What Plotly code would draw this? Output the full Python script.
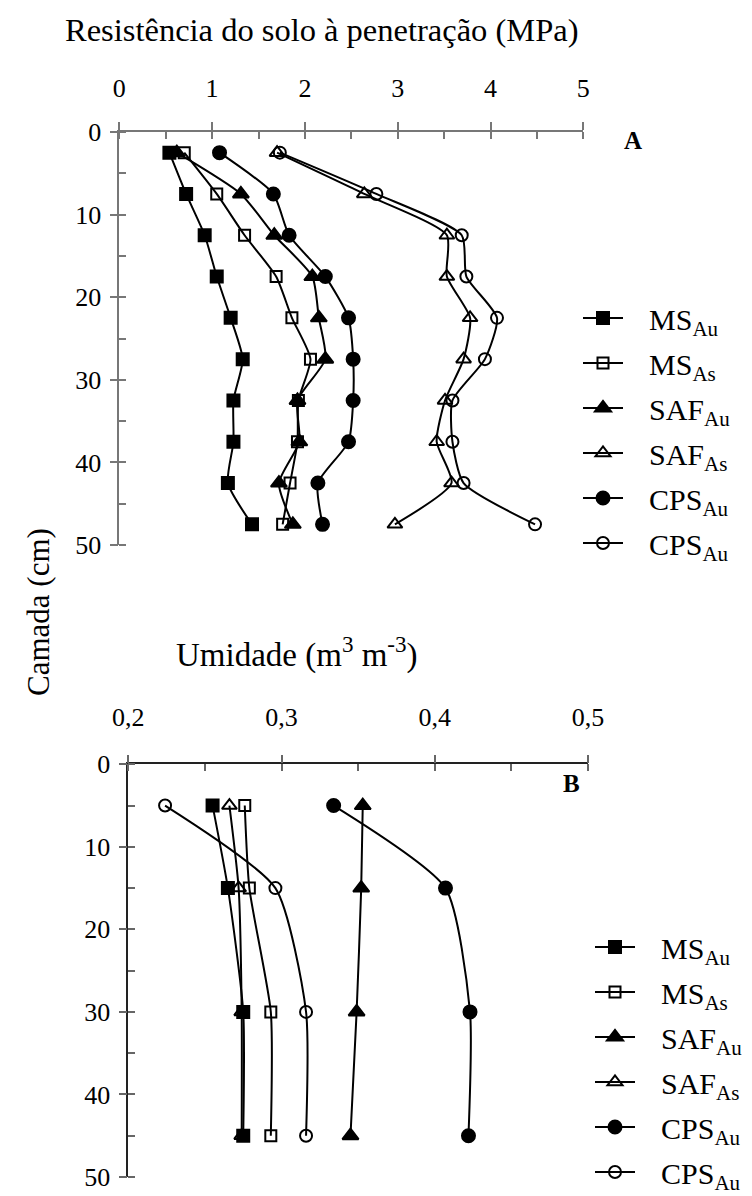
import plotly.graph_objects as go

# Painel A - resistencia a penetracao (MPa) por camada (cm)
camada_a = [2.5, 7.5, 12.5, 17.5, 22.5, 27.5, 32.5, 37.5, 42.5, 47.5]
rp_ms_au = [0.54, 0.72, 0.92, 1.05, 1.20, 1.33, 1.23, 1.23, 1.17, 1.43]
rp_ms_as = [0.70, 1.05, 1.35, 1.69, 1.86, 2.06, 1.93, 1.92, 1.84, 1.76]
rp_saf_au = [0.62, 1.31, 1.67, 2.08, 2.15, 2.22, 1.92, 1.94, 1.72, 1.87]
rp_saf_as = [1.70, 2.64, 3.53, 3.53, 3.78, 3.71, 3.51, 3.42, 3.58, 2.97]
rp_cps_au = [1.08, 1.66, 1.83, 2.22, 2.47, 2.52, 2.52, 2.47, 2.14, 2.19]
rp_cps_as = [1.73, 2.77, 3.69, 3.74, 4.07, 3.94, 3.59, 3.59, 3.71, 4.48]

# Painel B - umidade (m3 m-3) por camada (cm)
camada_b = [5, 15, 30, 45]
um_ms_au = [0.255, 0.265, 0.275, 0.275]
um_ms_as = [0.276, 0.279, 0.293, 0.293]
um_saf_au = [0.353, 0.352, 0.349, 0.345]
um_saf_as = [0.266, 0.272, 0.274, 0.274]
um_cps_au = [0.334, 0.407, 0.423, 0.422]
um_cps_as = [0.224, 0.296, 0.316, 0.316]

nomes = ["MS<sub>Au</sub>", "MS<sub>As</sub>", "SAF<sub>Au</sub>",
         "SAF<sub>As</sub>", "CPS<sub>Au</sub>", "CPS<sub>Au</sub>"]
simbolos = ["square", "square-open", "triangle-up", "triangle-up-open",
            "circle", "circle-open"]
tamanhos = [12, 11, 14, 13, 13, 12]

FONT = "Liberation Serif"
ESP = "\u00a0\u00a0\u2009"  # afasta o texto da legenda do simbolo
# a pagina tem margem de 8 px no body: figura menor e deslocada
OFF = 8
W, H = 752 - OFF, 1196 - OFF


def fx(p):
    return (p - OFF) / W


def fy(p):
    return 1 - (p - OFF) / H


fig = go.Figure()

series_a = [rp_ms_au, rp_ms_as, rp_saf_au, rp_saf_as, rp_cps_au, rp_cps_as]
series_b = [um_ms_au, um_ms_as, um_saf_au, um_saf_as, um_cps_au, um_cps_as]

for i, vals in enumerate(series_a):
    fig.add_trace(go.Scatter(
        x=vals, y=camada_a, mode="lines+markers", name=ESP + nomes[i],
        legend="legend", legendgroup="a%d" % i,
        line=dict(color="black", width=2, shape="spline", smoothing=0.6),
        marker=dict(symbol=simbolos[i], size=tamanhos[i], color="black",
                    line=dict(color="black", width=2)),
        xaxis="x", yaxis="y"))

for i, vals in enumerate(series_b):
    fig.add_trace(go.Scatter(
        x=vals, y=camada_b, mode="lines+markers", name=ESP + nomes[i],
        legend="legend2", legendgroup="b%d" % i,
        line=dict(color="black", width=2, shape="spline", smoothing=0.6),
        marker=dict(symbol=simbolos[i], size=tamanhos[i], color="black",
                    line=dict(color="black", width=2)),
        xaxis="x2", yaxis="y2"))

tick_font = dict(family=FONT, size=26, color="black")
eixo = dict(showgrid=False, zeroline=False, showline=True, linewidth=1.5,
            ticks="outside", ticklen=8, tickwidth=1.5, tickfont=tick_font,
            automargin=False)

fig.update_layout(
    width=W, height=H,
    margin=dict(l=0, r=0, t=0, b=0, autoexpand=False),
    paper_bgcolor="white", plot_bgcolor="white",
    separators=",.",
    font=dict(family=FONT, color="black"),
    xaxis=dict(eixo, domain=[fx(119.3), fx(583.3)], range=[0, 5], dtick=1,
               side="top", anchor="y", linecolor="#777", tickcolor="#777",
               ticklabelstandoff=15,
               minor=dict(ticks="inside", dtick=0.5, ticklen=7, tickcolor="#777")),
    yaxis=dict(eixo, domain=[fy(545), fy(132)], range=[50, 0], dtick=10,
               anchor="x", linecolor="#777", tickcolor="#777",
               ticklabelstandoff=3,
               minor=dict(ticks="inside", dtick=5, ticklen=7, tickcolor="#777")),
    xaxis2=dict(eixo, domain=[fx(128.3), fx(588)], range=[0.2, 0.5], dtick=0.1,
                tickformat=".1f", side="top", anchor="y2",
                linecolor="#222", tickcolor="#666", ticklabelstandoff=18,
                minor=dict(ticks="inside", dtick=0.05, ticklen=7, tickcolor="#666")),
    yaxis2=dict(eixo, domain=[fy(1177), fy(764.3)], range=[50, 0], dtick=10,
                anchor="x2", linecolor="#222", tickcolor="#666",
                ticklabelstandoff=3,
                minor=dict(ticks="inside", dtick=5, ticklen=7, tickcolor="#666")),
    legend=dict(x=fx(578), y=fy(292), xanchor="left", yanchor="top",
                font=dict(family=FONT, size=30), bgcolor="rgba(0,0,0,0)",
                tracegroupgap=3, itemwidth=40),
    legend2=dict(x=fx(590), y=fy(921), xanchor="left", yanchor="top",
                 font=dict(family=FONT, size=30), bgcolor="rgba(0,0,0,0)",
                 tracegroupgap=3, itemwidth=40),
    annotations=[
        dict(text="Resistência do solo à penetração (MPa)", x=fx(322), y=fy(30),
             xref="paper", yref="paper", showarrow=False,
             xanchor="center", yanchor="middle",
             font=dict(family=FONT, size=32.5)),
        dict(text="Umidade (m<sup>3</sup> m<sup>-3</sup>)", x=fx(297), y=fy(652),
             xref="paper", yref="paper", showarrow=False,
             xanchor="center", yanchor="middle",
             font=dict(family=FONT, size=33)),
        dict(text="Camada (cm)", x=fx(38), y=fy(612), textangle=-90,
             xref="paper", yref="paper", showarrow=False,
             xanchor="center", yanchor="middle",
             font=dict(family=FONT, size=31)),
        dict(text="<b>A</b>", x=fx(633), y=fy(140), xref="paper", yref="paper",
             showarrow=False, xanchor="center", yanchor="middle",
             font=dict(family=FONT, size=25)),
        dict(text="<b>B</b>", x=fx(571), y=fy(783), xref="paper", yref="paper",
             showarrow=False, xanchor="center", yanchor="middle",
             font=dict(family=FONT, size=25)),
    ],
)

fig.write_html("out.html")
